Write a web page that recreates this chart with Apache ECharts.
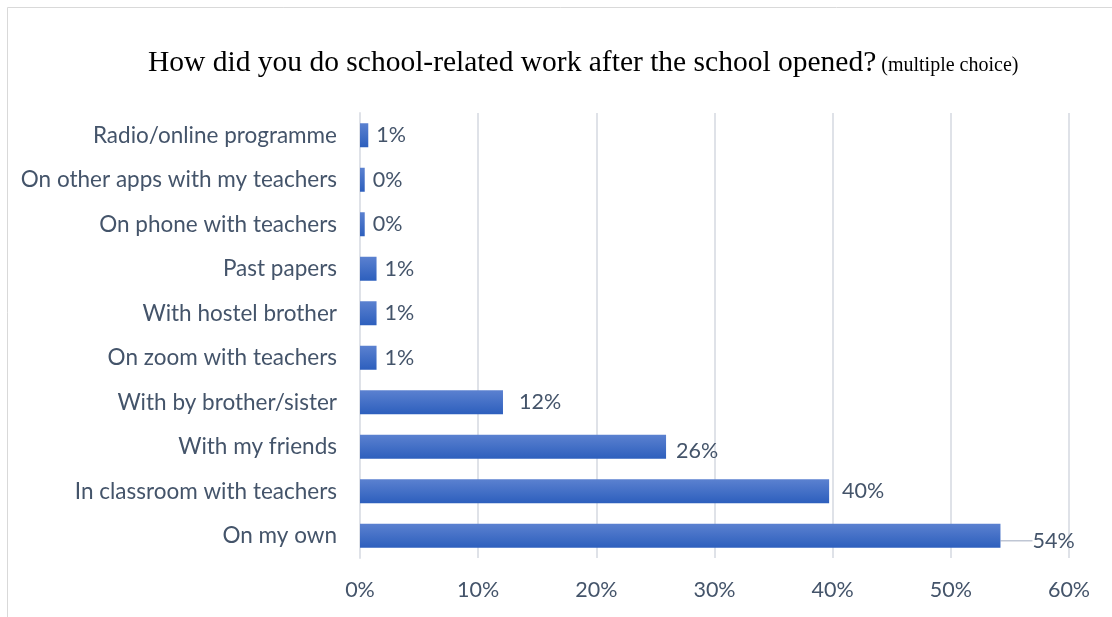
<!DOCTYPE html>
<html>
<head>
<meta charset="utf-8">
<style>
  html, body { margin: 0; padding: 0; background: #ffffff; }
  #chart { width: 1112px; height: 617px; }
</style>
<script src="https://cdn.jsdelivr.net/npm/echarts@6/dist/echarts.min.js"></script>
</head>
<body>
<div id="chart"></div>
<script>
// Answers, listed top to bottom as they appear in the chart
const categories = [
  'Radio/online programme',
  'On other apps with my teachers',
  'On phone with teachers',
  'Past papers',
  'With hostel brother',
  'On zoom with teachers',
  'With by brother/sister',
  'With my friends',
  'In classroom with teachers',
  'On my own'
];
// Share of respondents (%)
const shares = [0.7, 0.4, 0.4, 1.4, 1.4, 1.4, 12.1, 25.9, 39.7, 54.2];
// Value axis ticks (%)
const xTicks = [0, 10, 20, 30, 40, 50, 60];

const textColor = '#44546a';
const uiFont = 'Lato';
const lastIndex = shares.length - 1;

const chart = echarts.init(document.getElementById('chart'), null, { renderer: 'canvas' });

chart.setOption({
  backgroundColor: '#ffffff',
  animation: false,
  graphic: [{
    type: 'rect',
    shape: { x: 7.5, y: 7.5, width: 1120, height: 620 },
    style: { fill: 'none', stroke: '#d9d9d9', lineWidth: 1 },
    silent: true,
    z: -10
  }],
  title: {
    left: 143,
    top: 43,
    text: '{main|How did you do school-related work after the school opened?} {sub|(multiple choice)}',
    textStyle: {
      fontWeight: 'normal',
      rich: {
        main: { fontFamily: 'Liberation Serif', fontSize: 29.5, fontWeight: 'normal', color: '#000000' },
        sub: { fontFamily: 'Liberation Serif', fontSize: 20, fontWeight: 'normal', color: '#000000', padding: [5, 0, 0, 0] }
      }
    }
  },
  grid: { left: 360, right: 43, top: 113, bottom: 59, containLabel: false },
  xAxis: {
    type: 'value',
    min: xTicks[0],
    max: xTicks[xTicks.length - 1],
    interval: xTicks[1] - xTicks[0],
    axisLine: { show: false },
    axisTick: { show: false },
    axisLabel: {
      formatter: v => v + '%',
      color: textColor,
      fontFamily: uiFont,
      fontSize: 21.5,
      margin: 21
    },
    splitLine: { show: true, lineStyle: { color: '#dfe2e8', width: 2 } }
  },
  yAxis: {
    type: 'category',
    data: categories,
    inverse: true,
    axisLine: { show: true, lineStyle: { color: '#dfe2e8', width: 2 } },
    axisTick: { show: false },
    axisLabel: {
      color: textColor,
      fontFamily: uiFont,
      fontSize: 22.5,
      margin: 23
    }
  },
  series: [{
    type: 'bar',
    // only the largest bar gets a leader line to its shifted label
    data: shares.map((v, i) => i === lastIndex ? { value: v, labelLine: { show: true } } : v),
    barWidth: 24,
    itemStyle: {
      color: new echarts.graphic.LinearGradient(0, 0, 0, 1, [
        { offset: 0, color: '#5b81d0' },
        { offset: 1, color: '#2d5fbd' }
      ])
    },
    label: {
      show: true,
      position: 'right',
      distance: 8,
      formatter: p => Math.round(p.value) + '%',
      color: textColor,
      fontFamily: uiFont,
      fontSize: 21.5
    },
    labelLine: { show: false, length2: 0, lineStyle: { color: '#bfc6d4', width: 1.5 } },
    labelLayout: p => {
      if (p.dataIndex === lastIndex) return { dx: 24, dy: 5 };
      if (p.dataIndex === 7) return { dx: 2, dy: 4 };
      if (p.dataIndex === 6) return { dx: 8 };
      if (p.dataIndex === 8) return { dx: 5 };
      return {};
    }
  }]
});
</script>
</body>
</html>
